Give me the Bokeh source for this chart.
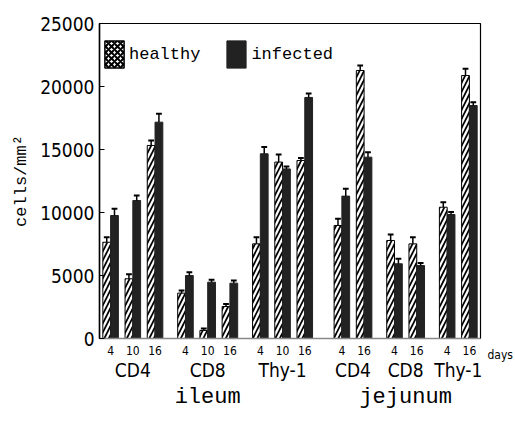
from bokeh.plotting import figure
from bokeh.models import (FactorRange, Range1d, ColumnDataSource, Legend, LegendItem,
                          FixedTicker, LinearAxis)
from bokeh.transform import dodge
from bokeh.embed import file_html
from bokeh.resources import INLINE

# ---- data ----
tissues = ["ileum"] * 9 + ["jejunum"] * 6
cells = ["CD4"] * 3 + ["CD8"] * 3 + ["Thy-1"] * 3 + ["CD4"] * 2 + ["CD8"] * 2 + ["Thy-1"] * 2
days = ["4", "10", "16"] * 3 + ["4", "16"] * 3
healthy = [7640, 4740, 15320, 3600, 640, 2540, 7510, 14000, 14130, 8970, 21270, 7780, 7510, 10420, 20870]
healthy_err = [400, 350, 390, 200, 150, 200, 530, 600, 200, 530, 400, 470, 530, 400, 530]
infected = [9760, 10950, 17170, 5000, 4470, 4390, 14660, 13460, 19130, 11300, 14390, 5930, 5790, 9840, 18490]
infected_err = [530, 400, 660, 260, 190, 210, 530, 190, 320, 580, 400, 400, 200, 190, 260]
y_ticks = [0, 5000, 10000, 15000, 20000, 25000]
series_names = ["healthy", "infected"]
unit_label = "days"
y_label = "cells/mm²"

factors = list(zip(tissues, cells, days))
src = ColumnDataSource(dict(
    x=factors, h=healthy, hu=[a + b for a, b in zip(healthy, healthy_err)],
    i=infected, iu=[a + b for a, b in zip(infected, infected_err)],
))

MONO = "Liberation Mono"
NARROW = "'Liberation Sans Narrow', 'DejaVu Sans Condensed', sans-serif"
DARK = "#222222"

p = figure(x_range=FactorRange(*factors, factor_padding=0, subgroup_padding=0.37,
                               group_padding=0.67, range_padding=0),
           y_range=Range1d(0, 25000), width=515, height=421,
           output_backend="svg", toolbar_location=None,
           min_border_left=99, min_border_right=25, min_border_top=23, min_border_bottom=83)

BW = 0.35
off_h, off_i = -BW / 2, BW / 2
CAP = 0.13

p.vbar(x=dodge("x", off_h, range=p.x_range), top="h", width=BW, source=src,
       fill_color="white", line_color="black", line_width=1,
       hatch_pattern="right_diagonal_line", hatch_color="black", hatch_scale=9, hatch_weight=1.7)
p.vbar(x=dodge("x", off_i, range=p.x_range), top="i", width=BW, source=src,
       fill_color=DARK, line_color=DARK)

for off, lo, hi in [(off_h, "h", "hu"), (off_i, "i", "iu")]:
    p.segment(x0=dodge("x", off, range=p.x_range), x1=dodge("x", off, range=p.x_range),
              y0=lo, y1=hi, source=src, line_color="black", line_width=1.5)
    p.segment(x0=dodge("x", off - CAP, range=p.x_range), x1=dodge("x", off + CAP, range=p.x_range),
              y0=hi, y1=hi, source=src, line_color="black", line_width=2)

# legend swatches (zero-height glyphs, only used for the legend)
leg_src = ColumnDataSource(dict(x=factors[:1], top=[0]))
r_h = p.vbar(x="x", top="top", width=0, source=leg_src, fill_color="white", line_color="black",
             line_width=1.5, hatch_pattern="diagonal_cross", hatch_color="black",
             hatch_scale=6, hatch_weight=2)
r_i = p.vbar(x="x", top="top", width=0, source=leg_src, fill_color=DARK, line_color=DARK)

legend = Legend(items=[LegendItem(label=series_names[0], renderers=[r_h]),
                       LegendItem(label=series_names[1], renderers=[r_i])],
                location=(3, 267), orientation="horizontal", glyph_width=24, glyph_height=34,
                label_standoff=3, spacing=24, padding=0, margin=0,
                border_line_color=None, background_fill_alpha=0,
                label_text_font=MONO, label_text_font_size="17px", label_text_color="black")
p.add_layout(legend, "center")

# "days" marker: a right-hand axis with a single label just below the frame's bottom
p.extra_y_ranges = {"unit": Range1d(0, 1)}
unit_axis = LinearAxis(y_range_name="unit", ticker=FixedTicker(ticks=[0]),
                       major_label_overrides={0: "\n\n" + unit_label},
                       axis_line_color=None, major_tick_line_color=None,
                       minor_tick_line_color=None, major_label_standoff=1,
                       major_label_text_font=NARROW, major_label_text_font_size="12px",
                       major_label_text_color="black")
p.add_layout(unit_axis, "right")

# axes
p.xgrid.grid_line_color = None
p.ygrid.grid_line_color = None
p.outline_line_color = "black"
p.outline_line_width = 1.2

ya = p.yaxis[0]
ya.ticker = FixedTicker(ticks=y_ticks)
ya.minor_tick_line_color = None
ya.major_tick_in = 5
ya.major_tick_out = 0
ya.axis_line_color = "black"
ya.axis_line_width = 1.5
ya.major_label_text_font = NARROW
ya.major_label_text_font_size = "19px"
ya.major_label_text_color = "black"
ya.major_label_standoff = 5
ya.axis_label = y_label
ya.axis_label_text_font = MONO
ya.axis_label_text_font_size = "17px"
ya.axis_label_text_font_style = "normal"
ya.axis_label_text_color = "black"
ya.axis_label_standoff = 6

xa = p.xaxis[0]
xa.axis_line_color = "#888888"
xa.axis_line_width = 1.5
xa.major_tick_line_color = None
xa.minor_tick_line_color = None
xa.separator_line_color = None
xa.major_label_orientation = "horizontal"
xa.major_label_text_font = NARROW
xa.major_label_text_font_size = "12px"
xa.major_label_text_color = "black"
xa.major_label_standoff = 1
xa.subgroup_text_font = NARROW
xa.subgroup_text_font_size = "19px"
xa.subgroup_text_color = "black"
xa.subgroup_text_font_style = "normal"
xa.group_text_font = MONO
xa.group_text_font_size = "22px"
xa.group_text_color = "black"
xa.group_text_font_style = "normal"

open("out.html", "w").write(file_html(p, INLINE))
